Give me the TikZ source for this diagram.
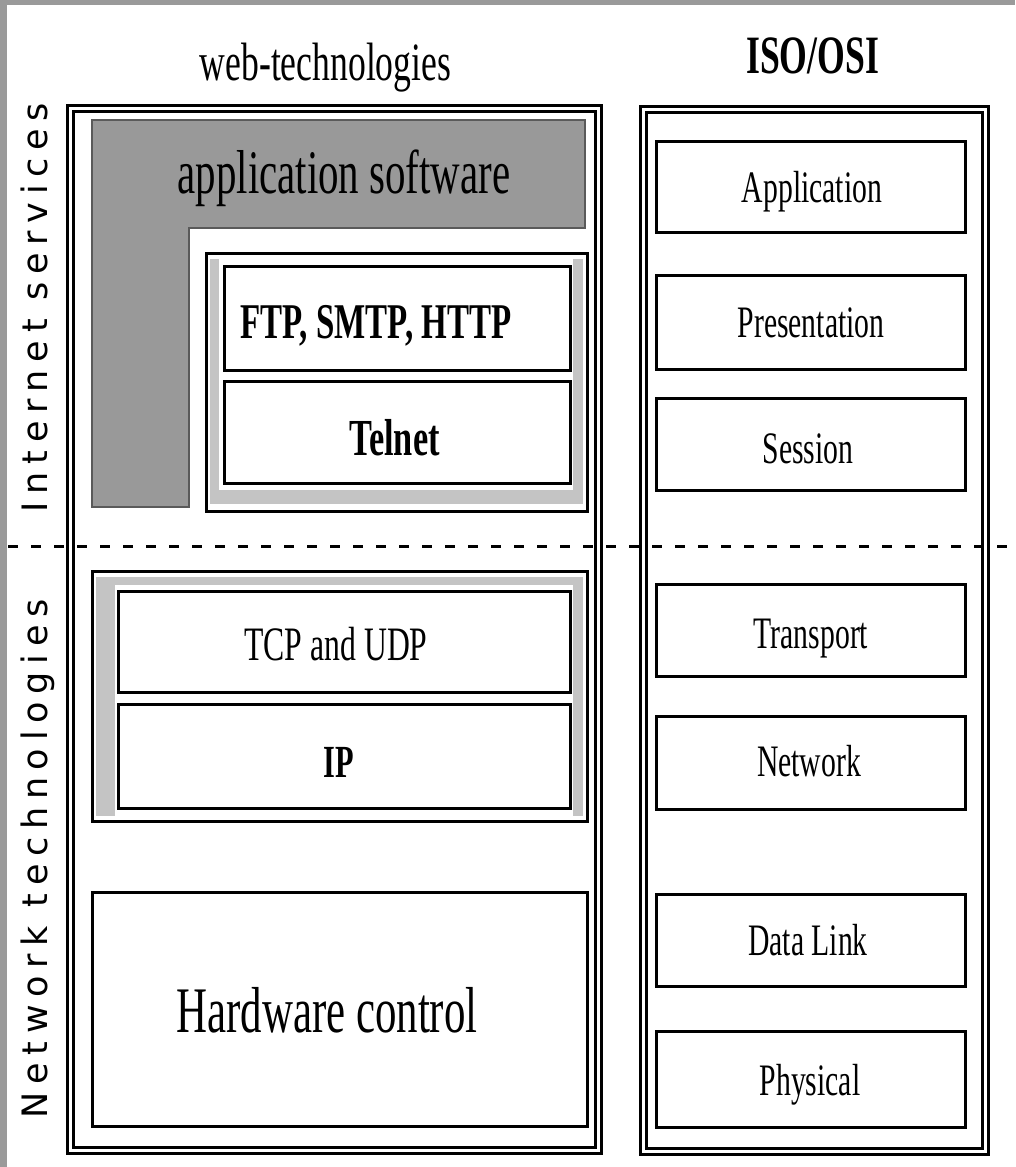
\documentclass[tikz,border=0pt]{standalone}
\usepackage{fontspec}
\setmainfont{Liberation Serif}
\newfontfamily\condfont[FakeStretch=0.66]{Liberation Serif}
\newfontfamily\sidefont[LetterSpace=22]{DejaVu Sans}
\usetikzlibrary{fit}

\newcommand{\cond}[1]{\condfont\fontsize{#1pt}{#1pt}\selectfont}

\definecolor{framegrey}{HTML}{9A9A9A}
\definecolor{appgrey}{HTML}{999999}
\definecolor{appedge}{HTML}{5A5A5A}
\definecolor{bevelgrey}{HTML}{C4C4C4}

\tikzset{
  dblframe/.style={draw, line width=3pt, double=white, double distance=3pt, inner sep=0pt},
  layerbox/.style={draw, line width=3pt, fill=white, inner sep=0pt},
  divider/.style={line width=3pt, dash pattern=on 10pt off 13pt},
  sidelabel/.style={rotate=90, anchor=base, inner sep=0pt, font=\sidefont\fontsize{35pt}{40pt}\selectfont},
  lbl/.style={anchor=base, inner sep=0pt},
  osilbl/.style={lbl, font=\cond{45}},
}

\begin{document}
\begin{tikzpicture}[x=1pt,y=1pt,yscale=-1]
\useasboundingbox (0,0) rectangle (1015,1167);

% page and grey edge
\fill[white] (0,0) rectangle (1015,1167);
\fill[framegrey] (0,0) rectangle (1015,5);
\fill[framegrey] (0,0) rectangle (7,1167);

% column titles
\node[lbl, font=\cond{54}] (webtitle) at (325.5,80) {web-technologies};
\node[lbl, font=\cond{54}\bfseries] (osititle) at (812.5,73) {ISO/OSI};

% outer frames
\node[dblframe, fit={(70.5,108) (598,1150)}] (webframe) {};
\node[dblframe, fit={(643.5,109) (985.5,1151)}] (osiframe) {};

% application software (L shape)
\filldraw[fill=appgrey, draw=appedge, line width=2.5pt]
  (92,120) -- (585,120) -- (585,228) -- (189,228) -- (189,507) -- (92,507) -- cycle;
\node[lbl, font=\cond{62}] (apptxt) at (344,193) {application software};

% FTP / Telnet group
\node[layerbox, fit={(206.5,253.5) (587,511.5)}] (upgrp) {};
\fill[bevelgrey] (210,259) rectangle (219,504);
\fill[bevelgrey] (210,490) rectangle (583,504);
\fill[bevelgrey] (573,259) rectangle (583,504);
\node[layerbox, fit={(224,266.5) (570,370)}] (ftp) {};
\node[layerbox, fit={(224,381.5) (570,483.5)}] (telnet) {};
\node[lbl, font=\cond{50}\bfseries] (ftptxt) at (376,338) {FTP, SMTP, HTTP};
\node[lbl, font=\cond{52}\bfseries] (telnettxt) at (394.5,455) {Telnet};

% TCP / IP group
\node[layerbox, fit={(92.5,571) (587,821.5)}] (lowgrp) {};
\fill[bevelgrey] (96,577) rectangle (115,816);
\fill[bevelgrey] (96,577) rectangle (583,585);
\fill[bevelgrey] (573,577) rectangle (583,816);
\node[layerbox, fit={(118.5,591) (570,692.5)}] (tcp) {};
\node[layerbox, fit={(118.5,704) (570,808.5)}] (ip) {};
\node[lbl, font=\cond{48}] (tcptxt) at (336,660) {TCP and UDP};
\node[lbl, font=\cond{46}\bfseries] (iptxt) at (339,777) {IP};

% hardware
\node[layerbox, fit={(92.5,892.5) (587,1126.5)}] (hw) {};
\node[lbl, font=\cond{65}] (hwtxt) at (327,1032) {Hardware control};

% ISO/OSI layers
\node[layerbox, fit={(656.5,141.5) (965.5,232)}] (application) {};
\node[layerbox, fit={(656.5,275) (965.5,369.5)}] (presentation) {};
\node[layerbox, fit={(656.5,398.5) (965.5,490.5)}] (session) {};
\node[layerbox, fit={(656.5,584) (965.5,676)}] (transport) {};
\node[layerbox, fit={(656.5,716) (965.5,809.5)}] (network) {};
\node[layerbox, fit={(656.5,894) (965.5,986.5)}] (datalink) {};
\node[layerbox, fit={(656.5,1031) (965.5,1127)}] (physical) {};
\node[osilbl] (applicationtxt) at (812,202) {Application};
\node[osilbl] (presentationtxt) at (811,337) {Presentation};
\node[osilbl] (sessiontxt) at (808,463) {Session};
\node[osilbl] (transporttxt) at (811,648) {Transport};
\node[osilbl] (networktxt) at (809,776) {Network};
\node[osilbl] (datalinktxt) at (808,955) {Data Link};
\node[osilbl] (physicaltxt) at (810,1095) {Physical};

% side labels
\node[sidelabel] (inetlbl) at (47,307.5) {Internet services};
\node[sidelabel] (netlbl) at (47,859) {Network technologies};

% divider
\coordinate (cutL) at (8,546);
\coordinate (cutR) at (1015,546);
\draw[divider] (cutL) -- (cutR);

\end{tikzpicture}
\end{document}
